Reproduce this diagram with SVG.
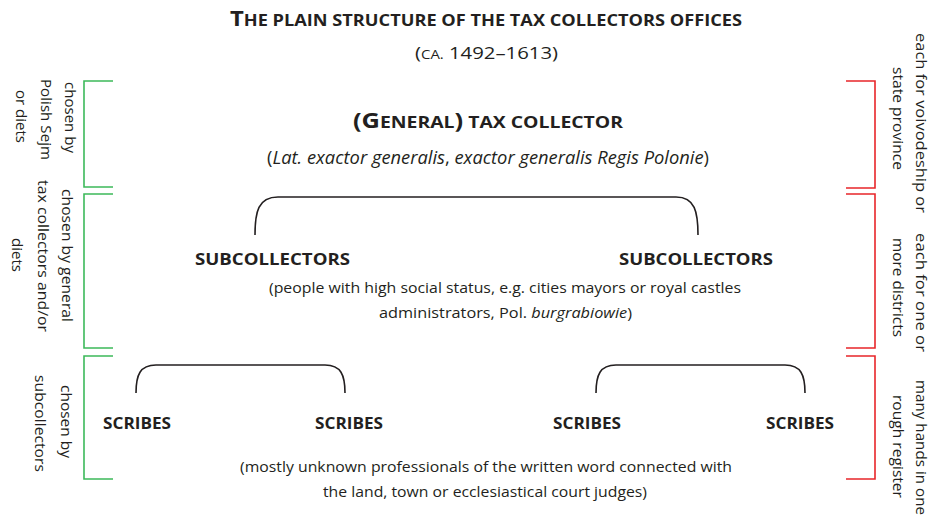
<svg xmlns="http://www.w3.org/2000/svg" width="935" height="518" viewBox="0 0 935 518">
  <style>
    text { font-family: "Open Sans", "Noto Sans", "Liberation Sans", sans-serif; fill: #231f20; }
    .b { font-weight: 700; }
    .it { font-style: italic; }
    .body { font-size: 15px; }
    .side { font-size: 15px; }
    .curly { fill: none; stroke: #231f20; stroke-width: 1.6; }
    .green { fill: none; stroke: #3cb95a; stroke-width: 1.6; }
    .red { fill: none; stroke: #e8262a; stroke-width: 1.6; }
  </style>
  <rect width="935" height="518" fill="#ffffff"/>

  <!-- heading -->
  <g id="title">
    <text class="b" x="230" y="26" textLength="512" lengthAdjust="spacingAndGlyphs"><tspan font-size="21">T</tspan><tspan font-size="16">HE PLAIN STRUCTURE OF THE TAX COLLECTORS OFFICES</tspan></text>
    <text x="415" y="59" textLength="143" lengthAdjust="spacingAndGlyphs"><tspan font-size="17">(</tspan><tspan font-size="12.5">CA.</tspan><tspan font-size="17"> 1492–1613)</tspan></text>
  </g>

  <!-- top level -->
  <g id="general-collector">
    <text class="b" x="353" y="128" textLength="270" lengthAdjust="spacingAndGlyphs"><tspan font-size="21">(G</tspan><tspan font-size="16">ENERAL</tspan><tspan font-size="21">)</tspan><tspan font-size="16"> TAX COLLECTOR</tspan></text>
    <text x="267" y="164" font-size="17.5" textLength="442" lengthAdjust="spacingAndGlyphs">(<tspan class="it">Lat. exactor generalis</tspan>, <tspan class="it">exactor generalis Regis Polonie</tspan>)</text>
  </g>

  <!-- second level -->
  <g id="subcollector-left">
    <text class="b" x="195" y="265" font-size="16.5" textLength="155" lengthAdjust="spacingAndGlyphs">SUBCOLLECTORS</text>
  </g>
  <g id="subcollector-right">
    <text class="b" x="619" y="265" font-size="16.5" textLength="154" lengthAdjust="spacingAndGlyphs">SUBCOLLECTORS</text>
  </g>
  <g id="subcollectors-note">
    <text class="body" x="269" y="293" textLength="472" lengthAdjust="spacingAndGlyphs">(people with high social status, e.g. cities mayors or royal castles</text>
    <text class="body" x="379" y="318" textLength="253" lengthAdjust="spacingAndGlyphs">administrators, Pol. <tspan class="it">burgrabiowie</tspan>)</text>
  </g>

  <!-- third level -->
  <g id="scribes-1"><text class="b" x="103" y="429" font-size="15.5" textLength="68" lengthAdjust="spacingAndGlyphs">SCRIBES</text></g>
  <g id="scribes-2"><text class="b" x="315" y="429" font-size="15.5" textLength="68" lengthAdjust="spacingAndGlyphs">SCRIBES</text></g>
  <g id="scribes-3"><text class="b" x="553" y="429" font-size="15.5" textLength="68" lengthAdjust="spacingAndGlyphs">SCRIBES</text></g>
  <g id="scribes-4"><text class="b" x="766" y="429" font-size="15.5" textLength="68" lengthAdjust="spacingAndGlyphs">SCRIBES</text></g>
  <g id="scribes-note">
    <text class="body" x="240" y="472" textLength="492" lengthAdjust="spacingAndGlyphs">(mostly unknown professionals of the written word connected with</text>
    <text class="body" x="323" y="497" textLength="324" lengthAdjust="spacingAndGlyphs">the land, town or ecclesiastical court judges)</text>
  </g>

  <!-- branching braces -->
  <g id="connectors">
    <path class="curly" d="M255,235 C255,212 258,197 278,197 H676 C695,197 698,212 698,235"/>
    <path class="curly" d="M136,393 C136,375 140,365 156,365 H325 C341,365 345,375 345,393"/>
    <path class="curly" d="M596,393 C596,375 600,365 616,365 H785 C801,365 805,375 805,393"/>
  </g>

  <!-- side brackets: who appoints (left), territorial scope (right) -->
  <g id="side-brackets">
    <path class="green" d="M113,81 H84 V187 H113"/>
    <path class="green" d="M113,194 H84 V348 H113"/>
    <path class="green" d="M113,356 H84 V479 H113"/>
    <path class="red" d="M846,81 H875 V188 H846"/>
    <path class="red" d="M846,194 H875 V348 H846"/>
    <path class="red" d="M846,356 H875 V479 H846"/>
  </g>

  <g id="label-level-1-left" class="side">
    <text transform="translate(65,117.5) rotate(90)" text-anchor="middle" textLength="71" lengthAdjust="spacingAndGlyphs">chosen by</text>
    <text transform="translate(41,119.5) rotate(90)" text-anchor="middle" textLength="81" lengthAdjust="spacingAndGlyphs">Polish Sejm</text>
    <text transform="translate(16,116.5) rotate(90)" text-anchor="middle" textLength="53" lengthAdjust="spacingAndGlyphs">or diets</text>
  </g>
  <g id="label-level-2-left" class="side">
    <text transform="translate(62,255.5) rotate(90)" text-anchor="middle" textLength="133" lengthAdjust="spacingAndGlyphs">chosen by general</text>
    <text transform="translate(38,256) rotate(90)" text-anchor="middle" textLength="152" lengthAdjust="spacingAndGlyphs">tax collectors and/or</text>
    <text transform="translate(12,255) rotate(90)" text-anchor="middle" textLength="34" lengthAdjust="spacingAndGlyphs">diets</text>
  </g>
  <g id="label-level-3-left" class="side">
    <text transform="translate(61,421.5) rotate(90)" text-anchor="middle" textLength="73" lengthAdjust="spacingAndGlyphs">chosen by</text>
    <text transform="translate(35,423.5) rotate(90)" text-anchor="middle" textLength="97" lengthAdjust="spacingAndGlyphs">subcollectors</text>
  </g>

  <g id="label-level-1-right" class="side">
    <text transform="translate(916,123) rotate(90)" text-anchor="middle" textLength="180" lengthAdjust="spacingAndGlyphs">each for voivodeship or</text>
    <text transform="translate(893,118.5) rotate(90)" text-anchor="middle" textLength="103" lengthAdjust="spacingAndGlyphs">state province</text>
  </g>
  <g id="label-level-2-right" class="side">
    <text transform="translate(916,292.5) rotate(90)" text-anchor="middle" textLength="119" lengthAdjust="spacingAndGlyphs">each for one or</text>
    <text transform="translate(893,287.5) rotate(90)" text-anchor="middle" textLength="99" lengthAdjust="spacingAndGlyphs">more districts</text>
  </g>
  <g id="label-level-3-right" class="side">
    <text transform="translate(916,447.5) rotate(90)" text-anchor="middle" textLength="135" lengthAdjust="spacingAndGlyphs">many hands in one</text>
    <text transform="translate(893,446.5) rotate(90)" text-anchor="middle" textLength="103" lengthAdjust="spacingAndGlyphs">rough register</text>
  </g>
</svg>
